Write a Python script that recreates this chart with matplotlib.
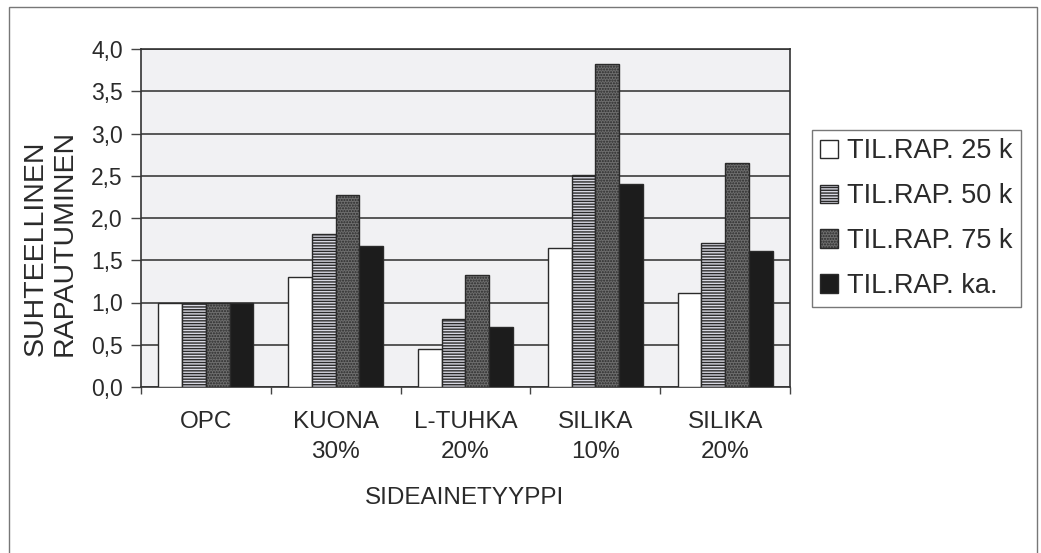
import matplotlib
matplotlib.use("Agg")
import matplotlib.pyplot as plt
import numpy as np
from matplotlib.patches import Rectangle

categories = ["OPC", "KUONA\n30%", "L-TUHKA\n20%", "SILIKA\n10%", "SILIKA\n20%"]
series_names = ["TIL.RAP. 25 k", "TIL.RAP. 50 k", "TIL.RAP. 75 k", "TIL.RAP. ka."]
rap_25k = [1.00, 1.30, 0.45, 1.65, 1.11]
rap_50k = [1.00, 1.81, 0.81, 2.51, 1.70]
rap_75k = [1.00, 2.27, 1.32, 3.82, 2.65]
rap_ka = [1.00, 1.67, 0.71, 2.40, 1.61]
y_ticks = [0.0, 0.5, 1.0, 1.5, 2.0, 2.5, 3.0, 3.5, 4.0]
y_tick_labels = ["0,0", "0,5", "1,0", "1,5", "2,0", "2,5", "3,0", "3,5", "4,0"]
x_title = "SIDEAINETYYPPI"
y_title = "SUHTEELLINEN\nRAPAUTUMINEN"

W, H = 1041, 553
plt.rcParams["font.family"] = ["Liberation Sans", "DejaVu Sans"]
TXT = "#2a2a2a"
EDGE = "#2a2a2a"

fig = plt.figure(figsize=(W / 100, H / 100), dpi=100)
fig.patch.set_facecolor("white")

def fx(px):
    return px / W

def fy(py):
    return 1 - py / H

ax = fig.add_axes([fx(141), fy(387), fx(790) - fx(141), fy(49) - fy(387)])
ax.set_facecolor("#f1f1f3")

series = [rap_25k, rap_50k, rap_75k, rap_ka]
styles = [
    dict(color="white", hatch=None),
    dict(color="#d8d8e2", hatch="------"),
    dict(color="#6e6e6e", hatch="......"),
    dict(color="#1c1c1c", hatch=None),
]
x = np.arange(len(categories))
bw = 0.183
handles = []
for i, (vals, st) in enumerate(zip(series, styles)):
    pos = x + (i - 1.5) * bw
    b = ax.bar(pos, vals, width=bw, color=st["color"], hatch=st["hatch"],
               edgecolor=EDGE, linewidth=1.0, zorder=3, label=series_names[i])
    handles.append(b)

ax.set_xlim(-0.5, len(categories) - 0.5)
ax.set_ylim(0, 4.0)
ax.set_yticks(y_ticks)
ax.set_yticklabels(y_tick_labels)
ax.yaxis.grid(True, color="#4a4a4a", linewidth=1.3, zorder=0)
ax.set_axisbelow(True)

ax.set_xticks(x)
ax.set_xticklabels(categories, linespacing=1.5)
ax.set_xticks(np.arange(len(categories) + 1) - 0.5, minor=True)
ax.tick_params(axis="x", which="major", length=0, pad=17, labelsize=17.5, labelcolor=TXT)
ax.tick_params(axis="x", which="minor", length=5, width=1, color="#444")
ax.tick_params(axis="y", which="major", length=7, width=1, color="#444", pad=6,
               labelsize=16.5, labelcolor=TXT)
for s in ax.spines.values():
    s.set_color("#333")
    s.set_linewidth(1.2)

fig.text(fx(465), fy(498), x_title, ha="center", va="center", fontsize=17.5, color=TXT)

fig.text(fx(50), fy(356), y_title, rotation=90, ha="center", va="bottom",
         multialignment="left", fontsize=20.5, color=TXT, linespacing=1.15)

leg = fig.legend(handles=handles, labels=series_names, loc="upper left",
                 bbox_to_anchor=(fx(812), fy(130)), borderaxespad=0,
                 fontsize=19.5, frameon=True, fancybox=False, handlelength=0.65,
                 handleheight=0.65, handletextpad=0.35, labelspacing=0.70,
                 borderpad=0.3, labelcolor=TXT)
leg.get_frame().set_edgecolor("#555")
leg.get_frame().set_linewidth(1.0)

fig.patches.append(Rectangle((fx(9), -0.02), fx(1037) - fx(9), fy(7) + 0.02,
                             transform=fig.transFigure, fill=False,
                             edgecolor="#777", linewidth=1.0, zorder=0))

fig.savefig("out.png", dpi=100)
